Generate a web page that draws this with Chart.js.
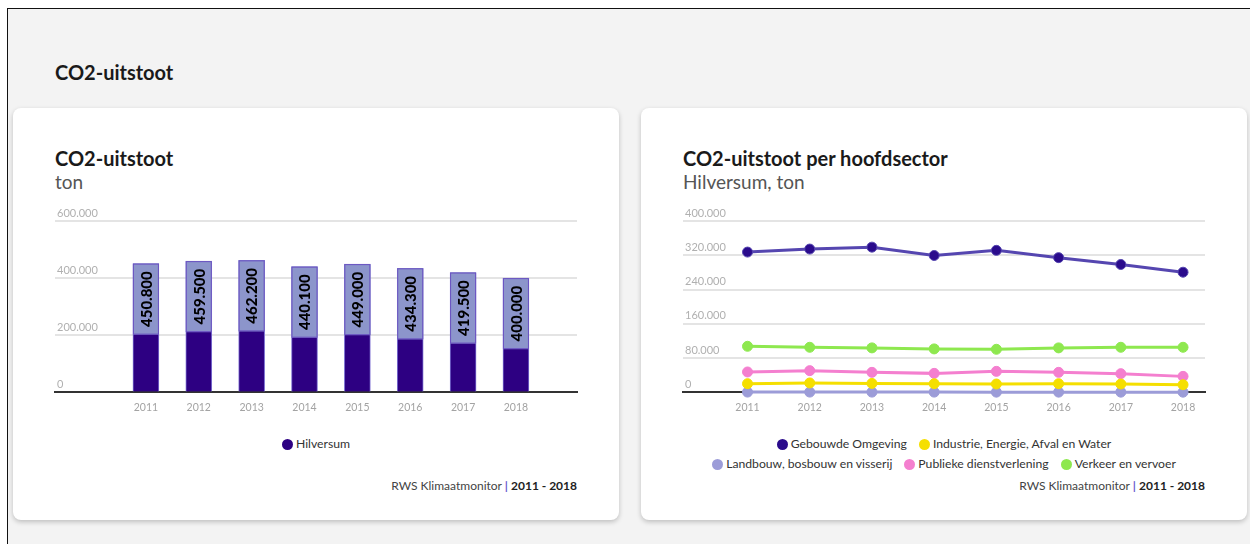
<!DOCTYPE html>
<html lang="nl">
<head>
<meta charset="utf-8">
<title>CO2-uitstoot</title>
<script src="https://cdn.jsdelivr.net/npm/chart.js@4.4.1/dist/chart.umd.min.js"></script>
<style>
  html, body { margin: 0; padding: 0; width: 1250px; height: 544px; overflow: hidden; background: #fff; }
  body { font-family: Lato, "Open Sans", sans-serif; color: #1a1a1a; position: relative; }
  .page { position: absolute; left: 7px; top: 8px; width: 1300px; height: 600px; border-left: 1px solid #111; border-top: 1px solid #111; background: #f3f3f3; }
  h1 { position: absolute; left: 55px; top: 60px; margin: 0; font-size: 20px; line-height: 24px; font-weight: 700; }
  .card { position: absolute; top: 108px; width: 606px; height: 412px; background: #fff; border-radius: 8px; box-shadow: 0 2px 5px rgba(0, 0, 0, 0.22); }
  .card h2 { position: absolute; left: 42px; top: 38px; margin: 0; font-size: 20px; line-height: 24px; font-weight: 700; }
  .card .sub { position: absolute; left: 42px; top: 63px; font-size: 19px; line-height: 22px; color: #555; }
  .chart-box { position: absolute; left: 0; top: 88px; width: 606px; height: 228px; }
  .legend { position: absolute; left: 0; top: 326px; width: 490px; padding: 0 58px; display: flex; flex-wrap: wrap; justify-content: center; font-size: 12.2px; line-height: 20px; color: #333; }
  .legend span.item { display: inline-flex; align-items: center; margin: 0 6px; white-space: nowrap; }
  .legend i { display: inline-block; width: 11px; height: 11px; border-radius: 50%; margin-right: 3px; }
  .footer { position: absolute; right: 42px; top: 370px; font-size: 12px; line-height: 16px; color: #444; }
  .footer .sep { color: #6a5acd; font-weight: 700; }
  .footer b { color: #222; }
</style>
</head>
<body>
<div class="page"></div>
<h1>CO2-uitstoot</h1>

<div class="card" style="left:13px">
  <h2>CO2-uitstoot</h2>
  <div class="sub">ton</div>
  <div class="chart-box"><canvas id="totalChart"></canvas></div>
  <div class="legend" id="totalLegend"></div>
  <div class="footer">RWS Klimaatmonitor <span class="sep">|</span> <b>2011 - 2018</b></div>
</div>

<div class="card" style="left:641px">
  <h2>CO2-uitstoot per hoofdsector</h2>
  <div class="sub">Hilversum, ton</div>
  <div class="chart-box"><canvas id="sectorChart"></canvas></div>
  <div class="legend" id="sectorLegend"></div>
  <div class="footer">RWS Klimaatmonitor <span class="sep">|</span> <b>2011 - 2018</b></div>
</div>

<script>
const years = [2011, 2012, 2013, 2014, 2015, 2016, 2017, 2018];

// totaal Hilversum (ton)
const totalHilversum = [450800, 459500, 462200, 440100, 449000, 434300, 419500, 400000];
const totalTicks = [0, 200000, 400000, 600000];

// per hoofdsector (ton)
const sectorNames = ['Gebouwde Omgeving', 'Industrie, Energie, Afval en Water', 'Landbouw, bosbouw en visserij', 'Publieke dienstverlening', 'Verkeer en vervoer'];
const gebouwdeOmgeving = [327500, 334500, 339000, 319500, 331500, 314500, 298500, 280500];
const industrie = [20300, 22000, 21000, 20300, 19600, 20300, 19600, 18000];
const landbouw = [700, 700, 650, 650, 600, 600, 600, 550];
const publiek = [47700, 50800, 46800, 44400, 49100, 46800, 43700, 37400];
const verkeer = [107600, 105300, 103900, 101500, 100600, 103900, 105300, 105300];
const sectorTicks = [0, 80000, 160000, 240000, 320000, 400000];

Chart.defaults.font.family = 'Lato';
Chart.defaults.animation = false;

// 600000 -> "600.000"
function nl(v) {
    return String(v).replace(/\B(?=(\d{3})+(?!\d))/g, '.');
}

function xAxis(min, max) {
    return {
        type: 'linear',
        min: min,
        max: max,
        offset: false,
        afterBuildTicks: s => { s.ticks = years.map(v => ({ value: v })); },
        grid: { display: false, drawTicks: false },
        border: { color: '#333', width: 2 },
        ticks: { color: '#a3a3a3', font: { size: 10.5 }, padding: 9, callback: v => String(v) }
    };
}

function yAxis(max, ticks) {
    return {
        min: 0,
        max: max,
        afterBuildTicks: s => { s.ticks = ticks.map(v => ({ value: v })); },
        border: { display: false },
        grid: { color: '#e4e4e4', lineWidth: 2, drawTicks: false },
        ticks: { mirror: true, padding: 2, labelOffset: -8, color: '#b0b0b0', font: { size: 11 }, callback: v => nl(v) }
    };
}

const commonOptions = {
    responsive: true,
    maintainAspectRatio: false,
    layout: { padding: { left: 38, right: 42, top: 25, bottom: 1 } },
    plugins: { legend: { display: false }, tooltip: { enabled: false } }
};

// waardelabel in een lila blok bovenin elke staaf
const barValueBox = {
    id: 'barValueBox',
    afterDatasetsDraw(chart) {
        const ctx = chart.ctx;
        const ds = chart.data.datasets[0];
        chart.getDatasetMeta(0).data.forEach((bar, i) => {
            const w = bar.width;
            const h = 71;
            ctx.save();
            ctx.fillStyle = '#8c95cb';
            ctx.fillRect(bar.x - w / 2, bar.y, w, h);
            ctx.strokeStyle = '#6a52c2';
            ctx.lineWidth = 1;
            ctx.strokeRect(bar.x - w / 2 + 0.5, bar.y + 0.5, w - 1, h - 1);
            ctx.translate(bar.x, bar.y + h / 2);
            ctx.rotate(-Math.PI / 2);
            ctx.fillStyle = '#000';
            ctx.font = '900 15px Lato';
            ctx.textAlign = 'center';
            ctx.textBaseline = 'middle';
            ctx.fillText(nl(ds.data[i].y), 0, 1);
            ctx.restore();
        });
    }
};

const totalChart = new Chart(document.getElementById('totalChart'), {
    type: 'bar',
    data: {
        datasets: [{
            label: 'Hilversum',
            data: years.map((y, i) => ({ x: y, y: totalHilversum[i] })),
            backgroundColor: '#2d0082',
            borderColor: '#7a6dd0',
            borderWidth: 1,
            barThickness: 26
        }]
    },
    options: Object.assign({}, commonOptions, {
        scales: { x: xAxis(2009.28, 2019.155), y: yAxis(600000, totalTicks) }
    }),
    plugins: [barValueBox]
});

const lineColors = ['#5546b0', '#f5df00', '#9c9cd8', '#f47fcf', '#8ee84f'];
const dotColors = ['#2a0b8c', '#f5df00', '#9c9cd8', '#f47fcf', '#8ee84f'];
const sectorSeries = [gebouwdeOmgeving, industrie, landbouw, publiek, verkeer];

const sectorChart = new Chart(document.getElementById('sectorChart'), {
    type: 'line',
    data: {
        datasets: sectorSeries.map((values, k) => ({
            label: sectorNames[k],
            data: years.map((y, i) => ({ x: y, y: values[i] })),
            borderColor: lineColors[k],
            borderWidth: 3,
            pointBackgroundColor: dotColors[k],
            pointBorderColor: lineColors[k],
            pointBorderWidth: 1,
            pointRadius: 5,
            clip: false
        }))
    },
    options: Object.assign({}, commonOptions, {
        scales: { x: xAxis(2009.963, 2018.353), y: yAxis(400000, sectorTicks) }
    })
});

// HTML-legenda's op basis van de datasets
function renderLegend(chart, el, colorOf) {
    el.innerHTML = chart.data.datasets.map(ds =>
        `<span class="item"><i style="background:${colorOf(ds)}"></i>${ds.label}</span>`
    ).join('');
}
renderLegend(totalChart, document.getElementById('totalLegend'), ds => ds.backgroundColor);
renderLegend(sectorChart, document.getElementById('sectorLegend'), ds => ds.pointBackgroundColor);
</script>
</body>
</html>
